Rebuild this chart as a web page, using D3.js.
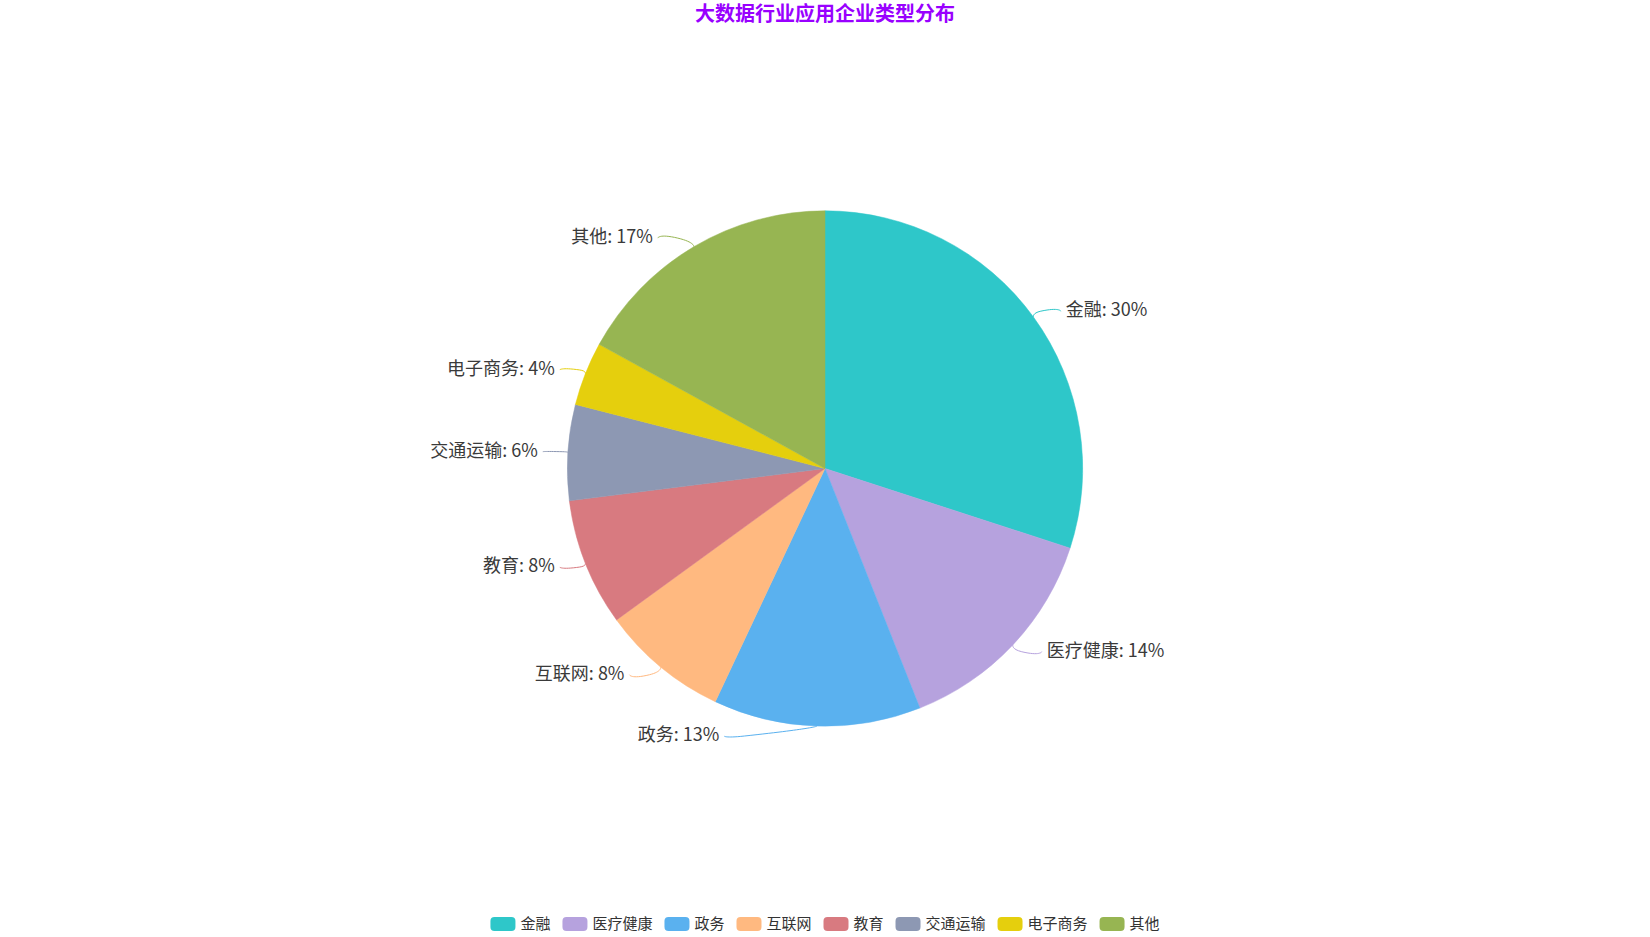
<!DOCTYPE html>
<html>
<head>
<meta charset="utf-8">
<title>大数据行业应用企业类型分布</title>
<script src="https://cdn.jsdelivr.net/npm/d3@7/dist/d3.min.js"></script>
<style>
  html, body { margin: 0; padding: 0; background: #fff; }
  svg { display: block; font-family: "Noto Sans CJK SC", "Noto Sans", sans-serif; }
</style>
</head>
<body>
<svg id="chart"></svg>
<script>
// data
const categories = ["金融", "医疗健康", "政务", "互联网", "教育", "交通运输", "电子商务", "其他"];
const shares = [30, 14, 13, 8, 8, 6, 4, 17];
const colors = ["#2ec7c9", "#b6a2de", "#5ab1ef", "#ffb980", "#d87a80", "#8d98b3", "#e5cf0d", "#97b552"];
const titleText = "大数据行业应用企业类型分布";

const width = 1650, height = 937;
const cx = width / 2, cy = height / 2;
const radius = Math.min(width, height) / 2 * 0.55;
const len1 = 10, len2 = 20, labelDist = 5;
const textShift = -3; // noto sits a little low with a central baseline

const svg = d3.select("#chart")
    .attr("width", width)
    .attr("height", height);

// title
svg.append("text")
    .attr("x", cx)
    .attr("y", 12)
    .attr("text-anchor", "middle")
    .attr("dominant-baseline", "central")
    .attr("fill", "#9900ff")
    .style("font-size", "20px")
    .style("font-weight", "bold")
    .text(titleText);

const rows = categories.map((name, i) => ({ name, value: shares[i], color: colors[i] }));
const total = d3.sum(rows, d => d.value);

const pie = d3.pie().sort(null).value(d => d.value);
const arcs = pie(rows);
const arc = d3.arc().innerRadius(0).outerRadius(radius);

const g = svg.append("g").attr("transform", `translate(${cx},${cy})`);

g.selectAll("path.slice")
    .data(arcs)
    .join("path")
    .attr("class", "slice")
    .attr("d", arc)
    .attr("fill", d => d.data.color)
    .attr("stroke", d => d.data.color)
    .attr("stroke-width", 0.5);

// label layout, roughly the way echarts places outside labels
const labels = arcs.map(d => {
    const a = (d.startAngle + d.endAngle) / 2;
    const sx = Math.sin(a), sy = -Math.cos(a);
    const left = sx < 0;
    const x1 = cx + radius * sx, y1 = cy + radius * sy;
    const x2 = cx + (radius + len1) * sx, y2 = cy + (radius + len1) * sy;
    const x3 = x2 + (left ? -len2 : len2);
    return {
        d, left,
        text: `${d.data.name}: ${Math.round(d.data.value / total * 100)}%`,
        x: x3 + (left ? -labelDist : labelDist),
        y: y2,
        h: 24,
        pts: [[x1, y1], [x2, y2], [x3, y2]]
    };
});

function adjustSide(list, dir) {
    list.sort((a, b) => a.y - b.y);
    // push overlapping labels down
    let lastY = -Infinity;
    list.forEach(l => {
        const top = l.y - l.h / 2;
        if (top < lastY) l.y += lastY - top;
        lastY = l.y + l.h / 2;
    });
    const up = list.filter(l => l.y < cy), down = list.filter(l => l.y >= cy);
    const R = radius + len1 + len2;
    let last = 0;
    up.forEach(l => {
        const dy = Math.abs(l.y - cy);
        let dx = dy < radius + len1 ? Math.sqrt(R * R - dy * dy) : Math.abs(l.x - cx);
        if (dx <= last) dx = last + 10;
        l.x = cx + dx * dir;
        last = dx;
    });
    last = Infinity;
    down.forEach(l => {
        const dy = Math.abs(l.y - cy);
        let dx = dy < radius + len1 ? Math.sqrt(R * R - dy * dy) : Math.abs(l.x - cx);
        if (dx >= last) dx = last - 10;
        l.x = cx + dx * dir;
        last = dx;
    });
}
adjustSide(labels.filter(l => l.left), -1);
adjustSide(labels.filter(l => !l.left), 1);

labels.forEach(l => {
    const dist = l.pts[1][0] - l.pts[2][0];
    l.pts[2][0] = l.left ? l.x + labelDist : l.x - labelDist;
    l.pts[1][0] = l.pts[2][0] + dist;
    l.pts[1][1] = l.pts[2][1] = l.y;
});

// smooth bezier through the three line points
function smoothLine(pts) {
    const [p0, p1, p2] = pts;
    const vx = p2[0] - p0[0], vy = p2[1] - p0[1];
    let d0 = Math.hypot(p1[0] - p0[0], p1[1] - p0[1]);
    let d1 = Math.hypot(p2[0] - p1[0], p2[1] - p1[1]);
    const s = d0 + d1;
    if (s) { d0 /= s; d1 /= s; }
    const c0 = [p1[0] - vx * d0, p1[1] - vy * d0];
    const c1 = [p1[0] + vx * d1, p1[1] + vy * d1];
    const p = d3.path();
    p.moveTo(p0[0], p0[1]);
    p.bezierCurveTo(p0[0], p0[1], c0[0], c0[1], p1[0], p1[1]);
    p.bezierCurveTo(c1[0], c1[1], p2[0], p2[1], p2[0], p2[1]);
    return p.toString();
}

svg.append("g").selectAll("path")
    .data(labels)
    .join("path")
    .attr("d", l => smoothLine(l.pts))
    .attr("fill", "none")
    .attr("stroke", l => l.d.data.color)
    .attr("stroke-width", 1);

svg.append("g").selectAll("text")
    .data(labels)
    .join("text")
    .attr("x", l => l.x)
    .attr("y", l => l.y)
    .attr("dy", textShift)
    .attr("text-anchor", l => l.left ? "end" : "start")
    .attr("dominant-baseline", "central")
    .attr("fill", "#3a3a3a")
    .style("font-size", "18px")
    .text(l => l.text);

// legend at the bottom, centred
const itemW = 25, itemH = 14, itemGap = 12, legendY = 924;
const legend = svg.append("g");
const items = legend.selectAll("g")
    .data(rows)
    .join("g");
items.append("rect")
    .attr("width", itemW)
    .attr("height", itemH)
    .attr("y", legendY - itemH / 2)
    .attr("rx", 4)
    .attr("fill", d => d.color);
items.append("text")
    .attr("x", itemW + 5)
    .attr("y", legendY)
    .attr("dy", textShift + 1)
    .attr("dominant-baseline", "central")
    .attr("fill", "#333")
    .style("font-size", "15px")
    .text(d => d.name);

let offsets = [], run = 0;
items.each(function () {
    const w = itemW + 5 + this.querySelector("text").getComputedTextLength();
    offsets.push(run);
    run += w + itemGap;
});
const legendW = run - itemGap;
items.attr("transform", (d, i) => `translate(${cx - legendW / 2 + offsets[i]},0)`);
</script>
</body>
</html>
